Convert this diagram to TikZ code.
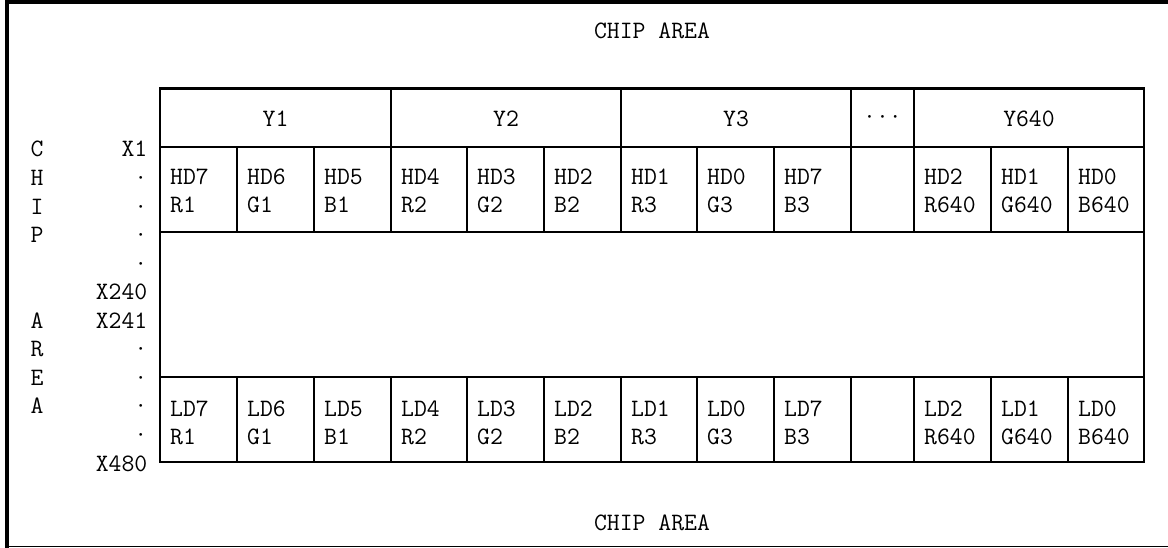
\documentclass[tikz,border=0pt]{standalone}
\usepackage{fontspec}
\begin{document}
\begin{tikzpicture}[x=1pt,y=-1pt,
  lbl/.style={font=\ttfamily\fontsize{25}{28}\selectfont, inner sep=0pt},
  gridline/.style={line width=2.2pt, line cap=rect},
  frameline/.style={line width=4pt}]
\useasboundingbox (0,0) rectangle (1168,548);
% outer frame
\draw[frameline] (5,2.2) -- (1168,2.2);
\draw[frameline] (7,0) -- (7,548);
\draw[line width=1.6pt] (5,546.3) -- (1168,546.3);
% table outline and rows
\draw[gridline] (160,88.5) rectangle (1144,462);
\draw[gridline] (160,147) -- (1144,147);
\draw[gridline] (160,232) -- (1144,232);
\draw[gridline] (160,377) -- (1144,377);
% full-height column separators
\foreach \x in {391,621,851,914} {
  \draw[gridline] (\x,88.5) -- (\x,232);
  \draw[gridline] (\x,377) -- (\x,462);
}
% sub-column separators
\foreach \x in {237,314,467,544,697,774,991,1068} {
  \draw[gridline] (\x,147) -- (\x,232);
  \draw[gridline] (\x,377) -- (\x,462);
}
% titles
\node[lbl, anchor=base] (toptitle) at (652,39) {CHIP AREA};
\node[lbl, anchor=base] (bottitle) at (652,530) {CHIP AREA};
% Y headers
\node[lbl, anchor=base] (y1) at (275.5,126.5) {Y1};
\node[lbl, anchor=base] (y2) at (506,126.5) {Y2};
\node[lbl, anchor=base] (y3) at (736,126.5) {Y3};
\node[lbl, anchor=base] (ydots) at (882.5,124.5) {···};
\node[lbl, anchor=base] (y640) at (1029,126.5) {Y640};
% HD / LD cells
\foreach \x/\a/\b/\i in {160/7/R1/1, 237/6/G1/2, 314/5/B1/3, 391/4/R2/4, 467/3/G2/5, 544/2/B2/6, 621/1/R3/7, 697/0/G3/8, 774/7/B3/9, 914/2/R640/10, 991/1/G640/11, 1068/0/B640/12} {
  \node[lbl, anchor=base west] (hda\i) at (\x+10,185) {HD\a};
  \node[lbl, anchor=base west] (hdb\i) at (\x+10,213) {\b};
  \node[lbl, anchor=base west] (lda\i) at (\x+10,416.5) {LD\a};
  \node[lbl, anchor=base west] (ldb\i) at (\x+10,444.5) {\b};
}
% left vertical CHIP AREA
\foreach \c/\k/\i in {C/0/1, H/1/2, I/2/3, P/3/4, A/6/5, R/7/6, E/8/7, A/9/8} {
  \node[lbl, anchor=base] (side\i) at (37,157+\k*28.55) {\c};
}
% X labels
\foreach \t/\k in {X1/0, ·/1, ·/2, ·/3, ·/4, X240/5, X241/6, ·/7, ·/8, ·/9, ·/10, X480/11} {
  \node[lbl, anchor=base east] (xl\k) at (147.5,157+\k*28.55) {\t};
}
\end{tikzpicture}
\end{document}
